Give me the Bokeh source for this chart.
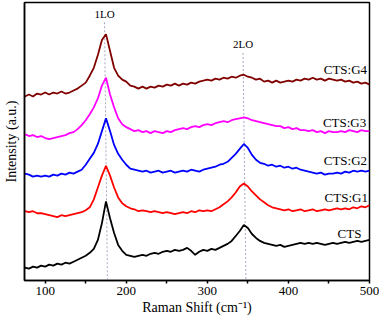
from bokeh.plotting import figure
from bokeh.models import Range1d, FixedTicker, Label
from bokeh.embed import file_html
from bokeh.resources import INLINE

# Raman shift grid (cm^-1)
shift = list(range(75, 505, 5))

# Intensities (a.u., stacked offsets as drawn)
cts = [13, 12, 14, 13, 15, 14, 16, 15, 17, 16, 18, 17, 19, 21, 23, 25, 28, 32, 41, 58,
       80, 63, 48, 36, 30, 26, 25, 24, 25, 26, 25, 27, 28, 27, 29, 30, 29, 31, 30, 31,
       33, 30, 26, 29, 31, 30, 32, 31, 33, 35, 37, 40, 45, 50, 56, 53, 47, 43, 40, 38,
       37, 36, 35, 36, 34, 35, 36, 37, 38, 37, 38, 37, 38, 37, 36, 37, 38, 37, 38, 39,
       38, 39, 40, 39, 40, 41]
cts_g1 = [70, 69, 70, 68, 68, 67, 66, 65, 64, 66, 65, 66, 67, 68, 69, 71, 74, 82, 94, 106,
          116, 106, 94, 84, 78, 75, 73, 72, 70, 71, 70, 69, 70, 69, 68, 69, 68, 67, 68, 69,
          68, 70, 69, 71, 70, 71, 70, 72, 74, 77, 80, 84, 89, 95, 98, 95, 90, 86, 82, 79,
          76, 74, 73, 72, 71, 72, 70, 71, 72, 70, 71, 72, 70, 71, 72, 71, 72, 73, 72, 73,
          72, 74, 73, 75, 74, 76]
cts_g2 = [108, 107, 105, 106, 105, 106, 105, 107, 106, 108, 107, 109, 108, 110, 112, 117, 123, 129, 138, 151,
          164, 151, 137, 128, 122, 117, 113, 112, 111, 110, 111, 109, 110, 111, 109, 110, 111, 109, 110, 111,
          110, 112, 111, 110, 112, 113, 114, 115, 117, 118, 120, 124, 128, 133, 138, 134, 127, 122, 119, 118,
          116, 117, 115, 116, 114, 115, 113, 114, 112, 111, 110, 109, 108, 109, 107, 108, 108, 109, 108, 110,
          109, 111, 110, 111, 110, 111]
cts_g3 = [148, 146, 147, 145, 146, 144, 143, 144, 145, 146, 147, 149, 150, 153, 157, 162, 168, 175, 184, 197,
          205, 188, 175, 164, 158, 155, 153, 151, 152, 150, 151, 149, 151, 150, 149, 151, 150, 152, 153, 154,
          153, 155, 156, 155, 157, 158, 157, 159, 160, 161, 160, 162, 163, 164, 165, 164, 162, 161, 160, 159,
          158, 157, 156, 156, 154, 155, 153, 154, 152, 152, 151, 152, 150, 151, 149, 151, 150, 150, 151, 150,
          152, 151, 150, 152, 151, 151]
cts_g4 = [186, 188, 186, 189, 188, 190, 188, 190, 189, 191, 189, 190, 192, 194, 197, 200, 207, 215, 228, 243,
          249, 232, 215, 207, 203, 201, 197, 196, 194, 196, 194, 196, 195, 197, 196, 198, 197, 199, 197, 199,
          198, 200, 199, 201, 202, 203, 202, 204, 203, 205, 204, 206, 205, 207, 208, 206, 205, 203, 204, 201,
          202, 200, 202, 200, 201, 202, 201, 203, 202, 204, 203, 205, 203, 204, 202, 204, 203, 202, 203, 201,
          202, 200, 201, 199, 200, 198]

series_names = ["CTS", "CTS:G1", "CTS:G2", "CTS:G3", "CTS:G4"]
series_values = [cts, cts_g1, cts_g2, cts_g3, cts_g4]
series_colors = ["#000000", "#ff0000", "#0000ff", "#ff00ff", "#800000"]
label_x = [490, 498, 497, 496, 497]
label_y = [48, 84, 121, 160, 213]

# Phonon mode markers
mode_names = ["1LO", "2LO"]
mode_x_top = [173.2, 344.0]
mode_x_bottom = [176.8, 347.6]
mode_y_top = [261, 230]
mode_label_y = [269, 239]

x_ticks = [100, 200, 300, 400, 500]
x_minor = [150, 250, 350, 450]

FONT = "Liberation Serif"

p = figure(width=379, height=317, output_backend="svg", toolbar_location=None,
           x_range=Range1d(74.5, 500), y_range=Range1d(0, 281),
           min_border_top=2, min_border_right=10, min_border_left=24, min_border_bottom=0)
p.background_fill_color = "white"
p.border_fill_color = "white"
p.xgrid.visible = False
p.ygrid.visible = False
p.outline_line_color = "black"
p.outline_line_width = 1.5

xa = p.xaxis[0]
xa.ticker = FixedTicker(ticks=x_ticks, minor_ticks=x_minor)
xa.major_tick_in = 0
xa.major_tick_out = 3
xa.minor_tick_in = 0
xa.minor_tick_out = 3
xa.axis_line_width = 1.5
xa.major_tick_line_width = 1.5
xa.minor_tick_line_width = 1.5
xa.major_label_text_font = FONT
xa.major_label_text_font_size = "13px"
xa.major_label_text_color = "black"
xa.major_label_standoff = 3
xa.axis_label = "Raman Shift (cm\u207b\u00b9)"
xa.axis_label_text_font = FONT
xa.axis_label_text_font_size = "14px"
xa.axis_label_text_font_style = "normal"
xa.axis_label_text_color = "black"
xa.axis_label_standoff = 2

ya = p.yaxis[0]
ya.ticker = FixedTicker(ticks=[])
ya.major_tick_line_color = None
ya.minor_tick_line_color = None
ya.axis_line_width = 1.5
ya.major_label_standoff = 0
ya.axis_label = "Intensity (a.u.)"
ya.axis_label_text_font = FONT
ya.axis_label_text_font_size = "14px"
ya.axis_label_text_font_style = "normal"
ya.axis_label_text_color = "black"
ya.axis_label_standoff = 6

# dotted mode lines
p.segment(x0=mode_x_top, y0=mode_y_top, x1=mode_x_bottom, y1=[0, 0],
          line_color="#a8a8c0", line_width=1, line_dash="2 2")

for vals, col in zip(series_values, series_colors):
    p.line(shift, vals, line_color=col, line_width=1.8)

for name, lx, ly in zip(series_names, label_x, label_y):
    p.add_layout(Label(x=lx, y=ly, text=name, text_font=FONT, text_font_size="13px",
                       text_align="right", text_baseline="middle", text_color="black"))

for name, mx, my in zip(mode_names, mode_x_top, mode_label_y):
    p.add_layout(Label(x=mx, y=my, text=name, text_font=FONT, text_font_size="11px",
                       text_align="center", text_baseline="middle", text_color="black"))

open("out.html", "w").write(file_html(p, INLINE))
